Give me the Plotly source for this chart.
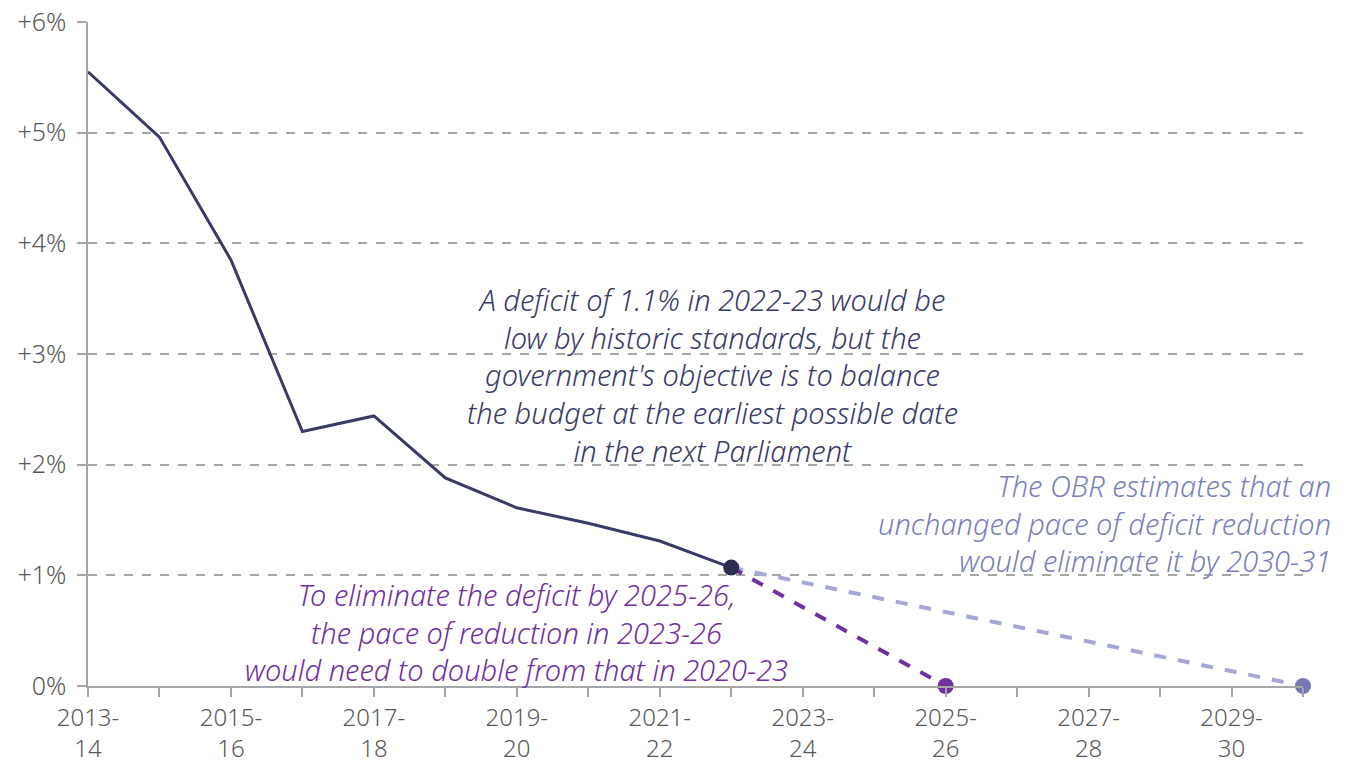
import plotly.graph_objects as go

years = ["2013-14", "2014-15", "2015-16", "2016-17", "2017-18", "2018-19", "2019-20",
         "2020-21", "2021-22", "2022-23", "2023-24", "2024-25", "2025-26", "2026-27",
         "2027-28", "2028-29", "2029-30", "2030-31"]
hist_years = years[:10]
deficit = [5.55, 4.96, 3.85, 2.30, 2.44, 1.88, 1.61, 1.47, 1.31, 1.07]
fast_years = ["2022-23", "2025-26"]
fast_vals = [1.07, 0.0]
obr_years = ["2022-23", "2030-31"]
obr_vals = [1.07, 0.0]
y_ticks = [0, 1, 2, 3, 4, 5, 6]
y_labels = ["0%", "+1%", "+2%", "+3%", "+4%", "+5%", "+6%"]
x_labels = [y.replace("-", "-<br>") if i % 2 == 0 else "" for i, y in enumerate(years)]

note_main = ["A deficit of 1.1% in 2022-23 would be", "low by historic standards, but the",
             "government's objective is to balance", "the budget at the earliest possible date",
             "in the next Parliament"]
note_obr = ["The OBR estimates that an", "unchanged pace of deficit reduction",
            "would eliminate it by 2030-31"]
note_fast = ["To eliminate the deficit by 2025-26,", "the pace of reduction in 2023-26",
             "would need to double from that in 2020-23"]

FONT = "Noto Sans"
NAVY = "#383a68"
PURPLE = "#7030a0"
LIGHT = "#a5a8d5"

fig = go.Figure()
fig.add_trace(go.Scatter(x=obr_years, y=obr_vals, mode="lines",
                         line=dict(color=LIGHT, width=4, dash="dash"), hoverinfo="skip",
                         cliponaxis=False))
fig.add_trace(go.Scatter(x=fast_years, y=fast_vals, mode="lines",
                         line=dict(color=PURPLE, width=4, dash="dash"), hoverinfo="skip",
                         cliponaxis=False))
fig.add_trace(go.Scatter(x=hist_years, y=deficit, mode="lines",
                         line=dict(color=NAVY, width=3), cliponaxis=False))
fig.add_trace(go.Scatter(x=[hist_years[-1]], y=[deficit[-1]], mode="markers",
                         marker=dict(color="#2b2d50", size=16), cliponaxis=False))
fig.add_trace(go.Scatter(x=[fast_years[-1]], y=[fast_vals[-1]], mode="markers",
                         marker=dict(color=PURPLE, size=16), cliponaxis=False))
fig.add_trace(go.Scatter(x=[obr_years[-1]], y=[obr_vals[-1]], mode="markers",
                         marker=dict(color="#7579b8", size=16), cliponaxis=False))

fig.update_layout(
    width=1352, height=765, showlegend=False,
    margin=dict(l=88, r=49, t=22, b=79),
    plot_bgcolor="white", paper_bgcolor="white",
    font=dict(family=FONT, size=24, color="#595959"),
    xaxis=dict(type="category", categoryorder="array", categoryarray=years,
               range=[0, 17], tickvals=years, ticktext=x_labels, automargin=False,
               ticks="outside", ticklen=9, tickcolor="#a6a6a6", tickwidth=1.5,
               showline=True, linecolor="#a6a6a6", linewidth=1.5,
               showgrid=False, zeroline=False,
               tickfont=dict(size=24, color="#595959", weight=300)),
    yaxis=dict(range=[0, 6], tickvals=y_ticks, ticktext=y_labels, automargin=False,
               ticks="outside", ticklen=9, tickcolor="#a6a6a6", tickwidth=1.5,
               ticklabelstandoff=6,
               showline=True, linecolor="#a6a6a6", linewidth=1.5,
               showgrid=True, gridcolor="#a6a6a6", griddash="dash", gridwidth=1.5,
               zeroline=False, tickfont=dict(size=25, color="#595959", weight=300)),
)


def add_note(lines, x, xanchor, align, top_y, color):
    fig.add_annotation(x=x, xref="paper", xanchor=xanchor, y=top_y, yref="y",
                       yanchor="top", text="<i>" + "<br>".join(lines) + "</i>",
                       showarrow=False, align=align,
                       font=dict(family=FONT, size=29, color=color, weight=300))


add_note(note_main, 0.5136, "center", "center", 3.69, NAVY)
add_note(note_obr, 1.0247, "right", "right", 2.006, "#7b7fba")
add_note(note_fast, 0.3523, "center", "center", 1.018, PURPLE)

fig.write_html("out.html")
